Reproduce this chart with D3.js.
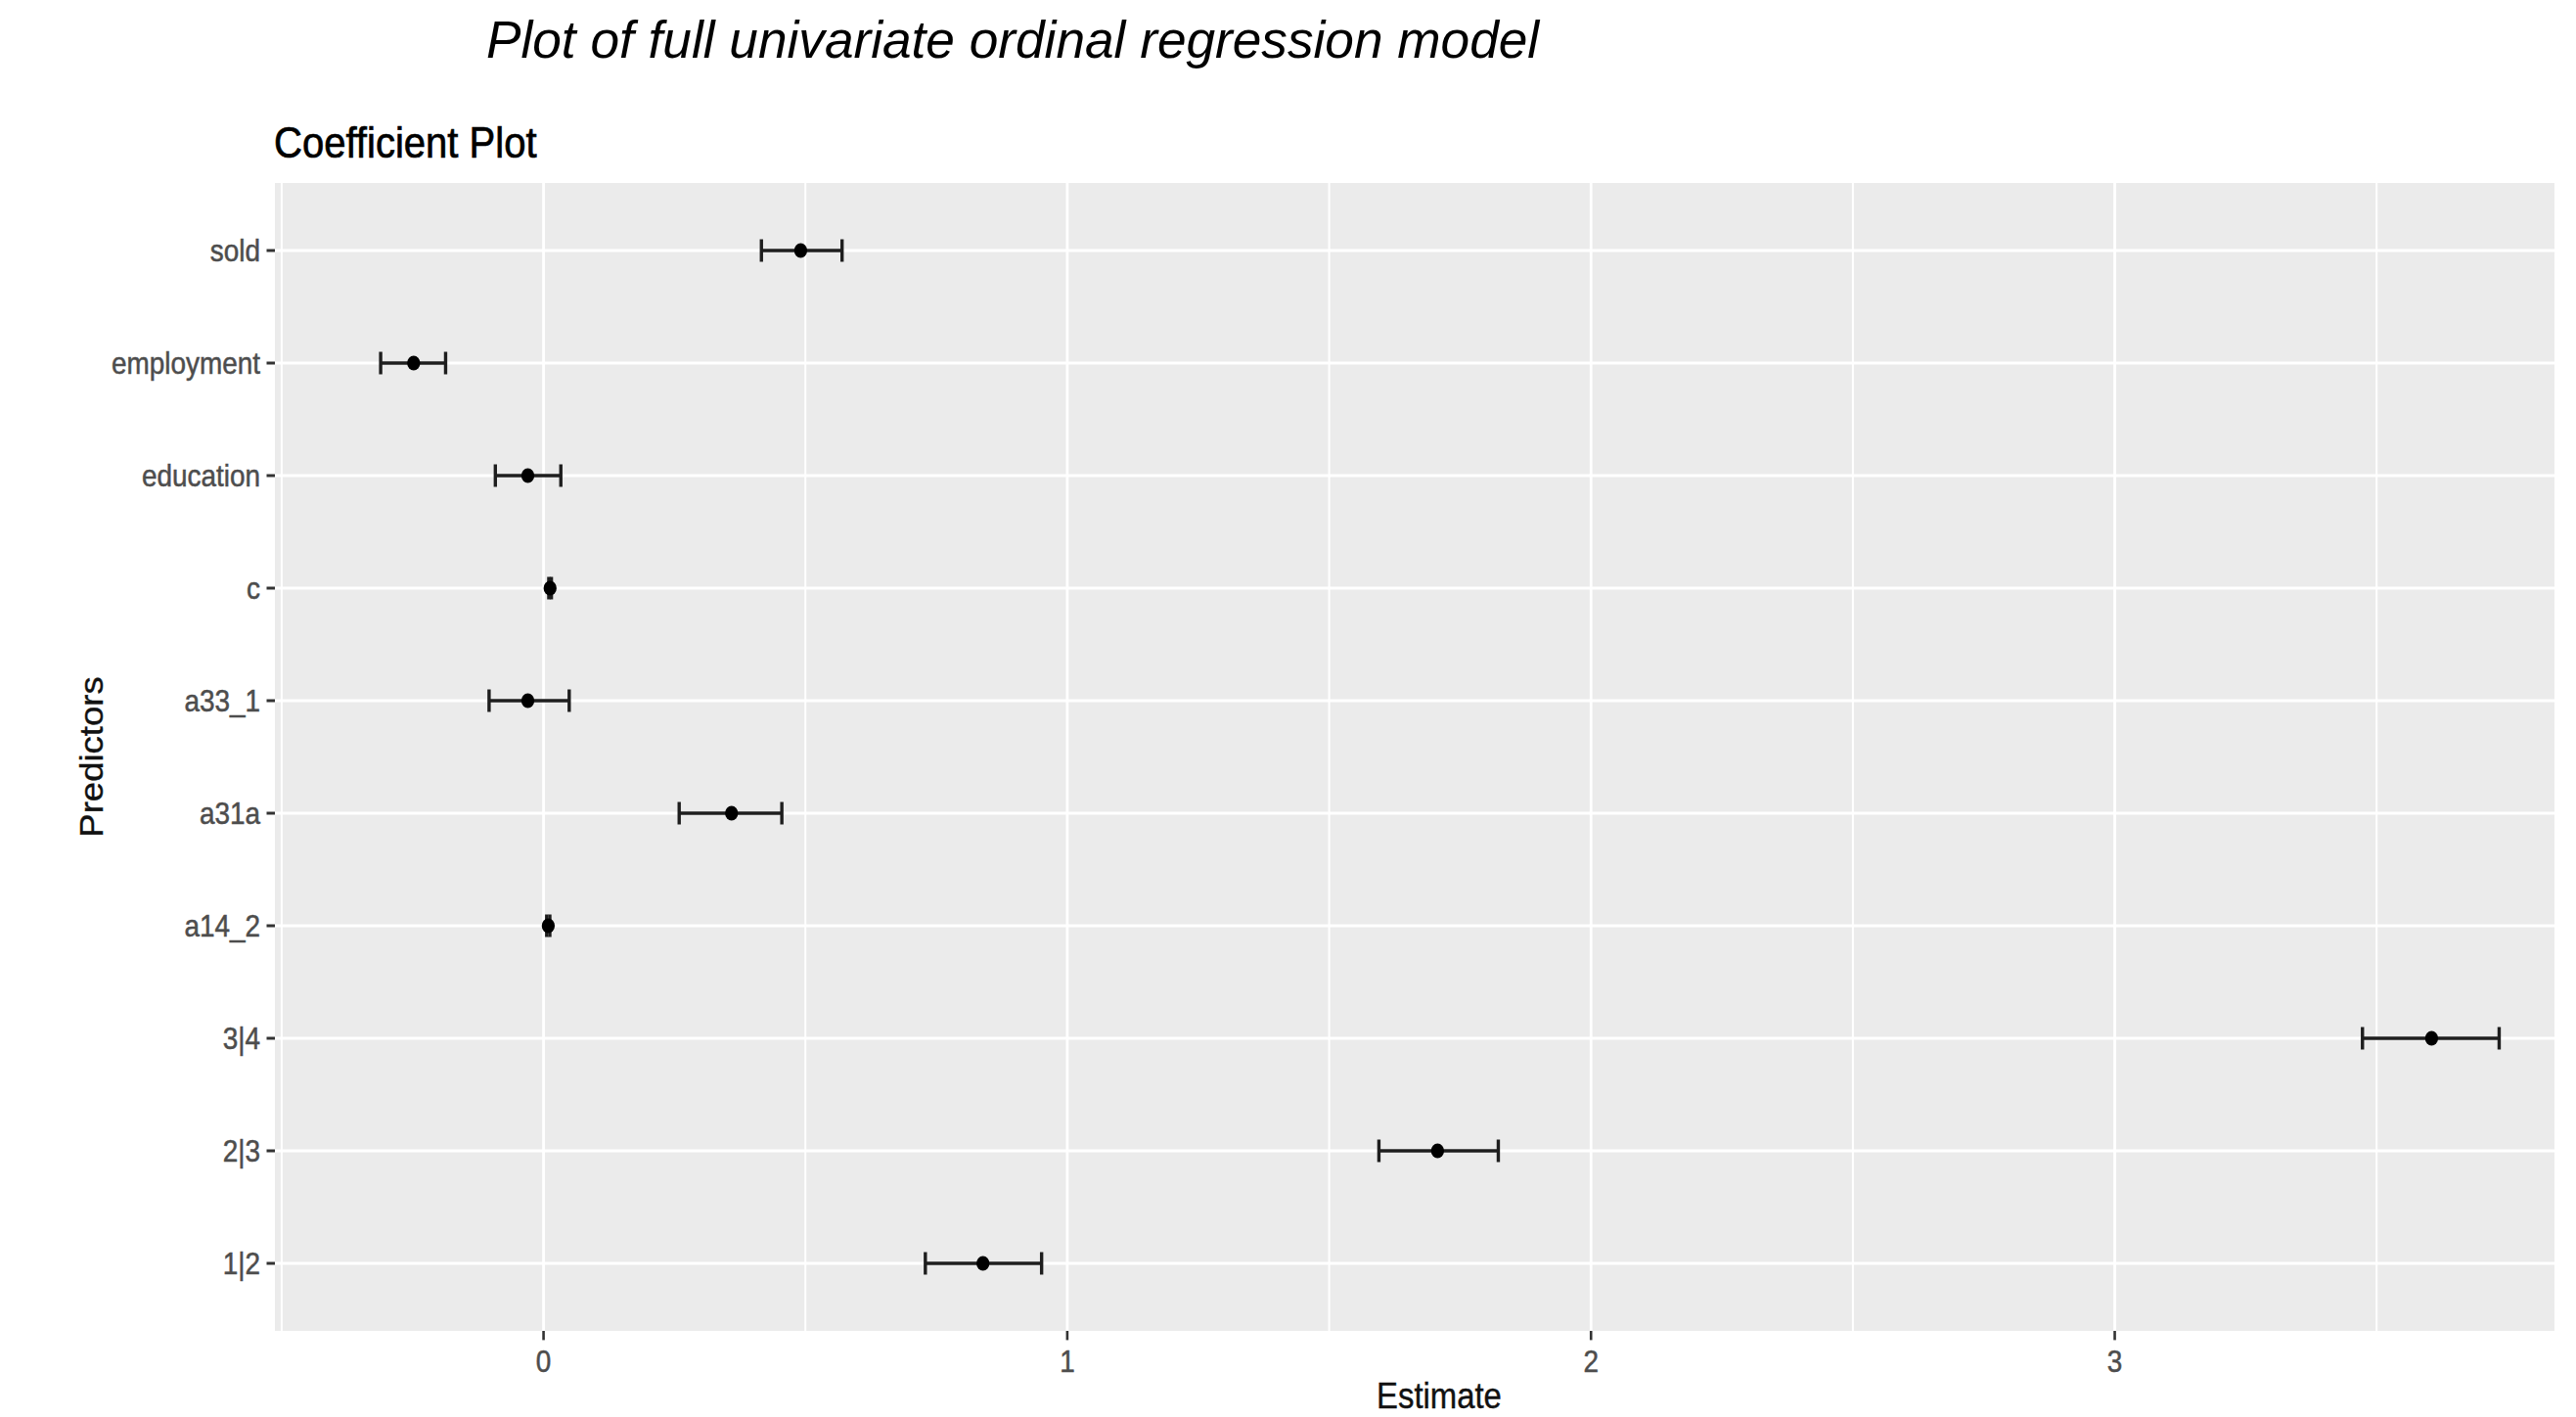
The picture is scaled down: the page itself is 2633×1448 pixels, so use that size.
<!DOCTYPE html>
<html>
<head>
<meta charset="utf-8">
<script src="https://cdn.jsdelivr.net/npm/d3@7"></script>
<style>
  html, body { margin: 0; padding: 0; background: #fff; }
  svg { display: block; font-family: "Liberation Sans", Arial, sans-serif; }
</style>
</head>
<body>
<svg id="chart" width="2633" height="1448"></svg>
<script>
// Coefficient estimates with their interval bounds, top row first
const predictors = ['sold', 'employment', 'education', 'c', 'a33_1', 'a31a', 'a14_2', '3|4', '2|3', '1|2'];
const estimates  = [0.491, -0.248, -0.030, 0.0125, -0.030, 0.359, 0.009, 3.605, 1.707, 0.839];
const lower      = [0.416, -0.311, -0.092, 0.010, -0.104, 0.259, 0.006, 3.473, 1.595, 0.729];
const upper      = [0.570, -0.187, 0.033, 0.015, 0.049, 0.455, 0.012, 3.734, 1.823, 0.951];
const xMajor = [0, 1, 2, 3];
const xMinor = [-0.5, 0.5, 1.5, 2.5, 3.5];

const panel = { left: 281, top: 187, bottom: 1360, visibleRight: 2611, fullRight: 2662.6 };
const SX = 0.9;          // the source picture is squeezed horizontally
const AXIS_TEXT = 31, AXIS_TITLE = 36.5, PLOT_TITLE = 44.5;
const GREY_TICK = '#333333', GREY_TEXT = '#4d4d4d';

const rows = predictors.map((p, i) => ({ name: p, est: estimates[i], lo: lower[i], hi: upper[i] }));

const x = d3.scaleLinear().domain([-0.5129, 3.936]).range([panel.left, panel.fullRight]);
const y = d3.scalePoint().domain(predictors).range([panel.top, panel.bottom]).padding(0.6);

const svg = d3.select('#chart');

svg.append('defs').append('clipPath').attr('id', 'panel-clip')
  .append('rect')
  .attr('x', panel.left).attr('y', panel.top)
  .attr('width', panel.visibleRight - panel.left).attr('height', panel.bottom - panel.top);

// Panel background + grid
const pg = svg.append('g').attr('clip-path', 'url(#panel-clip)');
pg.append('rect')
  .attr('x', panel.left).attr('y', panel.top)
  .attr('width', panel.fullRight - panel.left).attr('height', panel.bottom - panel.top)
  .attr('fill', '#ebebeb');

pg.selectAll('line.minor').data(xMinor).join('line')
  .attr('class', 'minor')
  .attr('x1', d => x(d)).attr('x2', d => x(d))
  .attr('y1', panel.top).attr('y2', panel.bottom)
  .attr('stroke', '#fff').attr('stroke-width', 2);

pg.selectAll('line.major').data(xMajor).join('line')
  .attr('class', 'major')
  .attr('x1', d => x(d)).attr('x2', d => x(d))
  .attr('y1', panel.top).attr('y2', panel.bottom)
  .attr('stroke', '#fff').attr('stroke-width', 2.8);

pg.selectAll('line.hgrid').data(predictors).join('line')
  .attr('class', 'hgrid')
  .attr('x1', panel.left).attr('x2', panel.fullRight)
  .attr('y1', d => y(d)).attr('y2', d => y(d))
  .attr('stroke', '#fff').attr('stroke-width', 3);

// Error bars + points
const CAP = 11.5;
const BAR = '#1e1e1e';
const bars = pg.append('g').selectAll('g').data(rows).join('g');
bars.append('line')
  .attr('x1', d => x(d.lo)).attr('x2', d => x(d.hi))
  .attr('y1', d => y(d.name)).attr('y2', d => y(d.name))
  .attr('stroke', BAR).attr('stroke-width', 3.6);
bars.append('line')
  .attr('x1', d => x(d.lo)).attr('x2', d => x(d.lo))
  .attr('y1', d => y(d.name) - CAP).attr('y2', d => y(d.name) + CAP)
  .attr('stroke', BAR).attr('stroke-width', 3.4);
bars.append('line')
  .attr('x1', d => x(d.hi)).attr('x2', d => x(d.hi))
  .attr('y1', d => y(d.name) - CAP).attr('y2', d => y(d.name) + CAP)
  .attr('stroke', BAR).attr('stroke-width', 3.4);
bars.append('ellipse')
  .attr('cx', d => x(d.est)).attr('cy', d => y(d.name))
  .attr('rx', 7.4 * SX).attr('ry', 7.4)
  .attr('fill', '#000');

// Y axis: ticks + labels
const yAxis = svg.append('g');
yAxis.selectAll('line').data(predictors).join('line')
  .attr('x1', panel.left - 8.5).attr('x2', panel.left)
  .attr('y1', d => y(d)).attr('y2', d => y(d))
  .attr('stroke', GREY_TICK).attr('stroke-width', 3);
yAxis.selectAll('text').data(predictors).join('text')
  .attr('transform', d => `translate(${panel.left - 15},${y(d)}) scale(${SX},1)`)
  .attr('text-anchor', 'end').attr('dy', '0.36em')
  .attr('font-size', AXIS_TEXT).attr('fill', GREY_TEXT)
  .attr('stroke', GREY_TEXT).attr('stroke-width', 0.5)
  .text(d => d);

// X axis: ticks + labels
const xAxis = svg.append('g');
xAxis.selectAll('line').data(xMajor).join('line')
  .attr('x1', d => x(d)).attr('x2', d => x(d))
  .attr('y1', panel.bottom).attr('y2', panel.bottom + 9.4)
  .attr('stroke', GREY_TICK).attr('stroke-width', 2.6);
xAxis.selectAll('text').data(xMajor).join('text')
  .attr('transform', d => `translate(${x(d)},${panel.bottom + 42}) scale(${SX},1)`)
  .attr('text-anchor', 'middle')
  .attr('font-size', AXIS_TEXT).attr('fill', GREY_TEXT)
  .attr('stroke', GREY_TEXT).attr('stroke-width', 0.5)
  .text(d => d);

// Axis titles
svg.append('text')
  .attr('transform', `translate(1471,1439) scale(${SX},1)`)
  .attr('text-anchor', 'middle')
  .attr('font-size', AXIS_TITLE).attr('fill', '#111')
  .attr('stroke', '#111').attr('stroke-width', 0.4)
  .text('Estimate');

svg.append('text')
  .attr('transform', `translate(105,${(panel.top + panel.bottom) / 2}) scale(${SX},1) rotate(-90)`)
  .attr('text-anchor', 'middle')
  .attr('font-size', AXIS_TITLE).attr('fill', '#111')
  .attr('stroke', '#111').attr('stroke-width', 0.4)
  .text('Predictors');

// Plot title
svg.append('text')
  .attr('transform', `translate(${panel.left - 1},161) scale(${SX},1)`)
  .attr('font-size', PLOT_TITLE).attr('fill', '#000')
  .attr('stroke', '#000').attr('stroke-width', 0.7)
  .text('Coefficient Plot');

// Figure caption above the plot
svg.append('text')
  .attr('x', 497).attr('y', 59)
  .attr('font-size', 53.2).attr('font-style', 'italic').attr('fill', '#000')
  .text('Plot of full univariate ordinal regression model');
</script>
</body>
</html>
